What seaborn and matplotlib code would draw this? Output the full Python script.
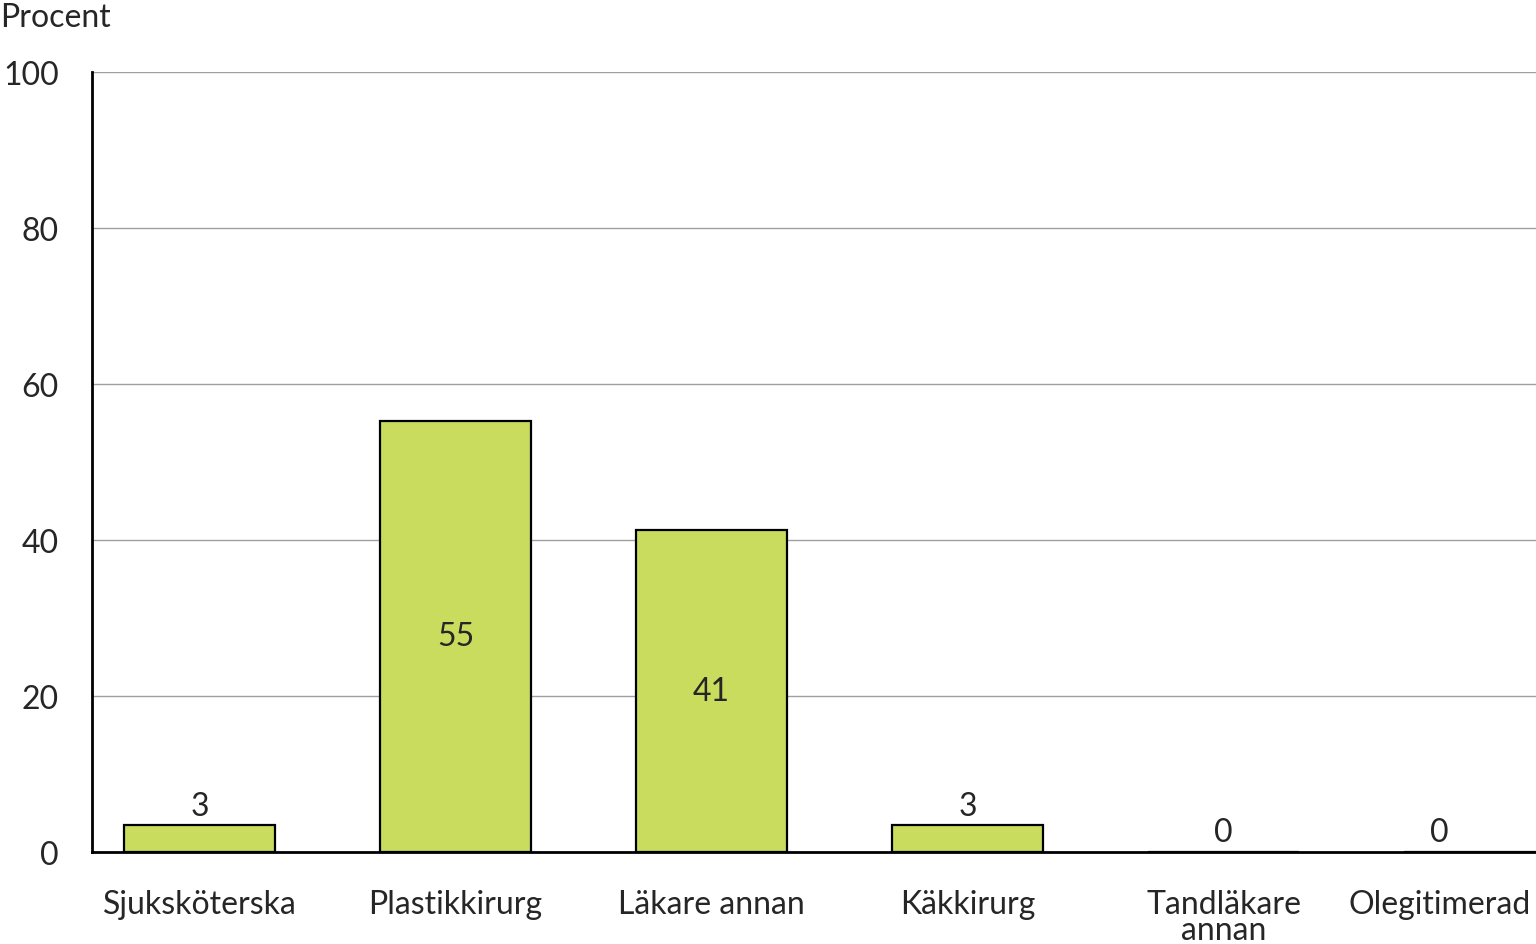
import matplotlib
matplotlib.use("Agg")
import matplotlib.pyplot as plt
import matplotlib.transforms as mtransforms
import seaborn as sns
import pandas as pd

categories = ["Sjuksköterska", "Plastikkirurg", "Läkare annan", "Käkkirurg",
              "Tandläkare\nannan", "Olegitimerad"]
values = [3.4, 55.3, 41.3, 3.4, 0, 0]
labels = ["3", "55", "41", "3", "0", "0"]

BAR = "#c9dc5e"
FS = 23

sns.set_style("white")
plt.rcParams["font.family"] = ["Lato", "DejaVu Sans"]

df = pd.DataFrame({"cat": categories, "val": values})

fig = plt.figure(figsize=(15.36, 9.45), dpi=100)
ax = fig.add_axes([92 / 1536, 92 / 945, 1 - 92 / 1536, 780 / 945])

sns.barplot(data=df, x="cat", y="val", color=BAR, width=0.59,
            edgecolor="black", linewidth=1.6, saturation=1, ax=ax, zorder=3)

ax.set_xlim(-0.42, 5.22)
ax.set_ylim(0, 100)
ax.set_yticks(range(0, 101, 20))
ax.yaxis.grid(True, color="#a0a0a0", linewidth=1, zorder=0)
ax.xaxis.grid(False)
ax.set_xlabel("")
ax.set_ylabel("")

for s in ["top", "right"]:
    ax.spines[s].set_visible(False)
for s in ["left", "bottom"]:
    ax.spines[s].set_color("black")
    ax.spines[s].set_linewidth(2)
    ax.spines[s].set_zorder(4)

ax.tick_params(axis="y", length=13, width=2, color="black", pad=11, labelsize=FS)
ax.tick_params(axis="x", length=0, pad=27, labelsize=FS)
for t in ax.get_xticklabels():
    t.set_linespacing(0.8)
    t.set_verticalalignment("top")

# the last label sits inside the figure edge
shift = mtransforms.ScaledTranslation(-40 / 100, 0, fig.dpi_scale_trans)
last = ax.get_xticklabels()[-1]
last.set_transform(last.get_transform() + shift)

for i, (v, lab) in enumerate(zip(values, labels)):
    if v > 20:
        ax.text(i, v / 2, lab, ha="center", va="center", fontsize=FS, zorder=5)
    else:
        tr = ax.transData + shift if i == len(values) - 1 else ax.transData
        ax.text(i, v + 0.6, lab, ha="center", va="bottom", fontsize=FS,
                transform=tr, zorder=5)

fig.text(0.0, 1 - 3 / 945, "Procent", ha="left", va="top", fontsize=FS)

fig.savefig("out.png", dpi=100)
